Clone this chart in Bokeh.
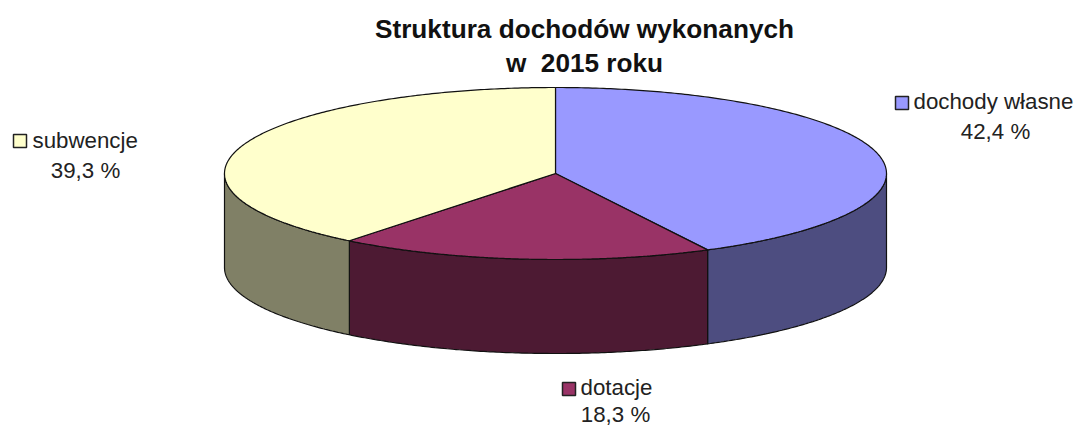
import numpy as np
from bokeh.plotting import figure
from bokeh.embed import file_html
from bokeh.resources import INLINE
from bokeh.core.properties import value

title_lines = ["Struktura dochodów wykonanych", "w\u00a0 2015 roku"]
categories = ["dochody własne", "dotacje", "subwencje"]
shares = [42.4, 18.3, 39.3]
share_labels = ["42,4 %", "18,3 %", "39,3 %"]
top_colors = ["#9999FF", "#993366", "#FFFFCC"]
side_colors = ["#4D4D80", "#4D1A33", "#808066"]

# pie geometry in reference pixels
CX, CY, RX, RY, DEPTH = 555, 173, 331, 86, 94
# label anchors: key left, key top, name left, name baseline, share centre, share baseline
KEYS = {
    "dochody własne": (895, 96, 913, 109, 995, 139),
    "dotacje": (562, 382, 580, 395, 615, 422),
    "subwencje": (13, 134, 32, 148, 85, 178),
}
TITLE_PX, LABEL_PX = 26.2, 22.3
BASELINE_SHIFT = 0.34  # the svg text sits this many em below the requested baseline

p = figure(width=1074, height=428, x_range=(0, 1074), y_range=(428, 0),
           toolbar_location=None, output_backend="svg", min_border=0,
           outline_line_color=None, background_fill_color="white", border_fill_color="white")
p.axis.visible = False
p.grid.visible = False


def arc(a, b, n=120):
    t = np.linspace(a, b, n)
    return CX + RX * np.sin(t), CY - RY * np.cos(t)


edges = np.radians(np.cumsum([0] + shares) * 3.6)
EDGE = "#111111"

# sides: only the front half of the rim (90..270 degrees) is visible
for i, col in enumerate(side_colors):
    a = max(edges[i], np.pi / 2)
    b = min(edges[i + 1], 3 * np.pi / 2)
    if b <= a:
        continue
    x, y = arc(a, b)
    p.patch(np.r_[x, x[::-1]], np.r_[y, y[::-1] + DEPTH], fill_color=col,
            line_color=EDGE, line_width=1.2)

# top wedges
for i, col in enumerate(top_colors):
    x, y = arc(edges[i], edges[i + 1], 240)
    p.patch(np.r_[CX, x], np.r_[CY, y], fill_color=col, line_color=EDGE, line_width=1.2)

FONT = value("Liberation Sans")
for yy, line in zip([37, 71], title_lines):
    p.text([584], [yy - BASELINE_SHIFT * TITLE_PX], text=[line], text_font=FONT,
           text_font_size=f"{TITLE_PX}px", text_font_style="bold",
           text_align="center", text_baseline="alphabetic", text_color="#111111")

for cat, lab, col in zip(categories, share_labels, top_colors):
    kx, ky, nx, nb, sx, sb = KEYS[cat]
    p.quad(left=[kx], right=[kx + 13], top=[ky], bottom=[ky + 13], fill_color=col,
           line_color="#222222", line_width=1.5)
    p.text([nx], [nb - BASELINE_SHIFT * LABEL_PX], text=[cat], text_font=FONT,
           text_font_size=f"{LABEL_PX}px", text_align="left",
           text_baseline="alphabetic", text_color="#222222")
    p.text([sx], [sb - BASELINE_SHIFT * LABEL_PX], text=[lab], text_font=FONT,
           text_font_size=f"{LABEL_PX}px", text_align="center",
           text_baseline="alphabetic", text_color="#222222")

open("out.html", "w").write(file_html(p, INLINE))
